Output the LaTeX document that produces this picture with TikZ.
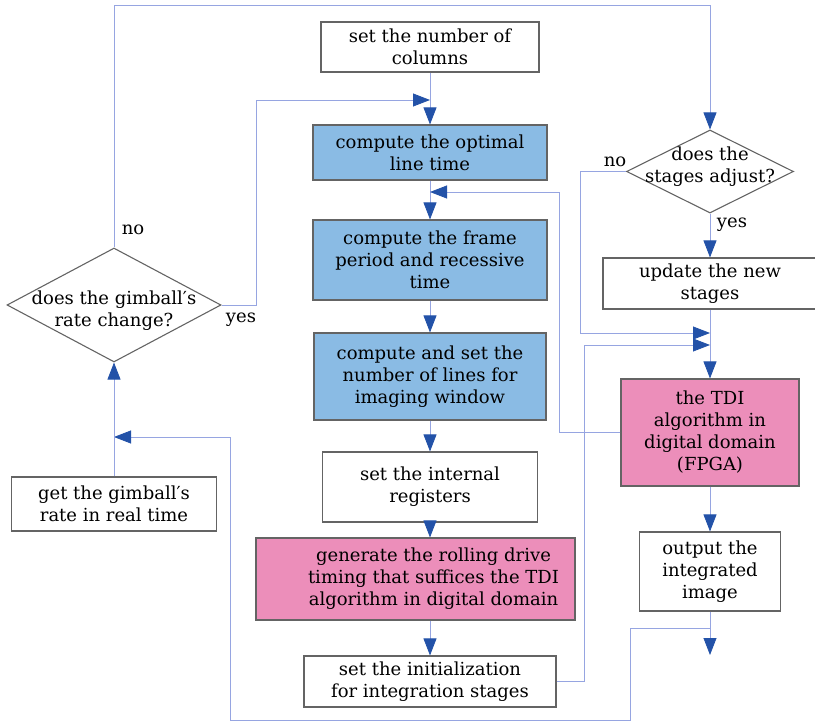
\documentclass[tikz,border=0pt]{standalone}
\usepackage{fontspec}
\setmainfont{DejaVu Serif}
\usetikzlibrary{arrows.meta,shapes.geometric}
\definecolor{linkblue}{RGB}{150,165,225}
\definecolor{tipblue}{RGB}{35,82,168}
\definecolor{stepblue}{RGB}{138,187,228}
\definecolor{steppink}{RGB}{236,142,186}
\definecolor{edgegray}{RGB}{100,100,100}

\begin{document}
\begin{tikzpicture}[x=1pt, y=-1pt, font=\fontsize{18}{22}\selectfont,
  box/.style={draw=edgegray, line width=1.1pt, align=center, inner sep=2pt},
  ask/.style={diamond, draw=edgegray, line width=1.1pt, inner sep=0pt},
  flow/.style={linkblue, line width=0.8pt, -{Triangle[length=17pt,width=13pt,color=tipblue]}}]
  \useasboundingbox (0,0) rectangle (815,727);
  % middle column
  \node[box, minimum width=218pt, minimum height=50pt] (cols) at (430,47) {set the number of\\columns};
  \node[box, fill=stepblue, minimum width=234pt, minimum height=55pt] (optim) at (430,152.5) {compute the optimal\\line time};
  \node[box, fill=stepblue, minimum width=234pt, minimum height=80pt] (frame) at (430,260) {compute the frame\\period and recessive\\time};
  \node[box, fill=stepblue, minimum width=232pt, minimum height=87pt] (lines) at (430,376.5) {compute and set the\\number of lines for\\imaging window};
  \node[box, minimum width=215pt, minimum height=70pt] (regs) at (430,487) {set the internal\\registers};
  \node[box, fill=steppink, minimum width=319pt, minimum height=82pt,
        label={[align=center,xshift=18pt]center:{generate the rolling drive\\timing that suffices the TDI\\algorithm in digital domain}}] (rolling) at (415.5,579) {};
  \node[box, minimum width=252pt, minimum height=51pt] (init) at (430,681.5) {set the initialization\\for integration stages};
  % left column
  \node[ask, minimum width=214pt, minimum height=114pt,
        label={[align=center,yshift=-6pt]center:{does the gimball′s\\rate change?}}] (gdiam) at (114,305) {};
  \node[box, minimum width=205pt, minimum height=54pt] (getrate) at (114,504) {get the gimball′s\\rate in real time};
  % right column
  \node[ask, minimum width=167pt, minimum height=83pt,
        label={[align=center,yshift=5pt]center:{does the\\stages adjust?}}] (sdiam) at (710,171.5) {};
  \node[box, minimum width=214pt, minimum height=51pt] (update) at (710,283.5) {update the new\\stages};
  \node[box, fill=steppink, minimum width=178pt, minimum height=107pt] (tdi) at (710,432.5) {the TDI\\algorithm in\\digital domain\\(FPGA)};
  \node[box, minimum width=141pt, minimum height=79pt] (output) at (710,571.5) {output the\\integrated\\image};
  % answers
  \node (no1) at (133,230) {no};
  \node (yes1) at (241,320) {yes};
  \node (no2) at (615,162) {no};
  \node (yes2) at (732,225) {yes};
  % joints
  \coordinate (top) at (114,5);
  \coordinate (jopt) at (430,100);
  \coordinate (jframe) at (430,192);
  \coordinate (jtdi1) at (710,333);
  \coordinate (jtdi2) at (710,345);
  \coordinate (obranch) at (710,628);
  \coordinate (oend) at (710,655);
  \coordinate (jget) at (114,437);
  % connectors
  \draw[flow] (gdiam.north) -- (top) -| (sdiam.north);
  \draw[flow] (gdiam.east) -- ++(35,0) |- (jopt);
  \draw[flow] (cols) -- (optim);
  \draw[flow] (optim) -- (frame);
  \draw[flow] (frame) -- (lines);
  \draw[flow] (lines) -- (regs);
  \draw[flow] (regs) -- (regs |- rolling.north);
  \draw[flow] (rolling.south -| init) -- (init);
  \draw[flow] (tdi.west) -- ++(-61,0) |- (jframe);
  \draw[flow] (sdiam.west) -- ++(-46,0) |- (jtdi1);
  \draw[flow] (init.east) -- ++(28,0) |- (jtdi2);
  \draw[flow] (sdiam) -- (update);
  \draw[flow] (update) -- (tdi);
  \draw[flow] (tdi) -- (output);
  \draw[flow] (output) -- (oend);
  \draw[flow] (obranch) -- ++(-80,0) -- ++(0,92) -- ++(-400,0) |- (jget);
  \draw[flow] (getrate) -- (gdiam);
\end{tikzpicture}
\end{document}
